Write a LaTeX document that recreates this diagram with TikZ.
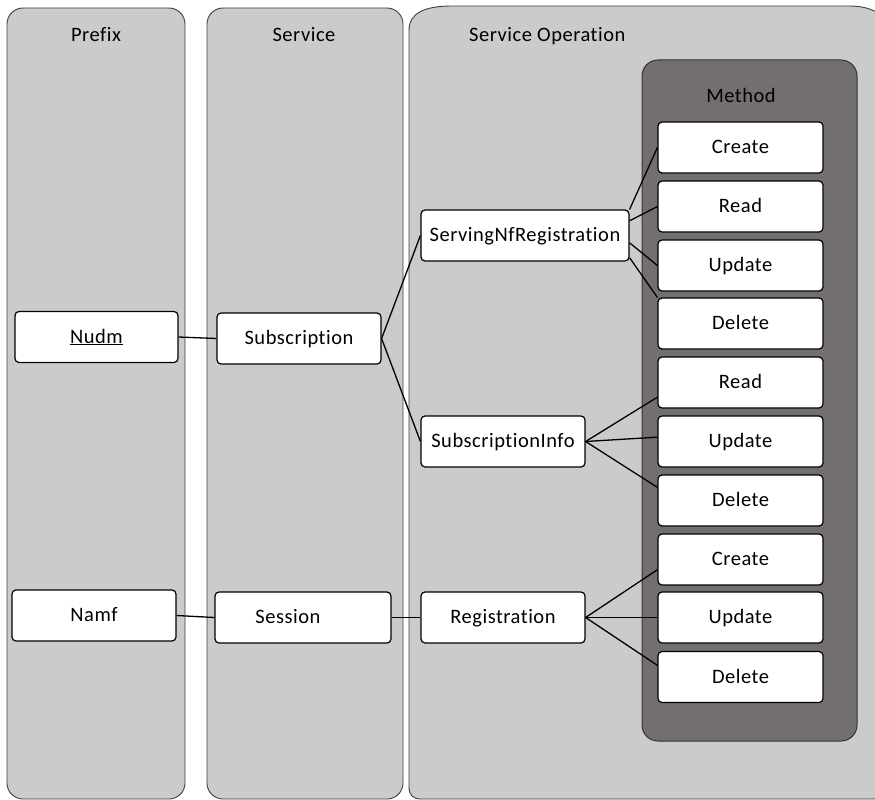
\documentclass[tikz,border=0pt]{standalone}
\usepackage{fontspec}
\setmainfont{Carlito}[Ligatures=NoCommon,LetterSpace=2.5]
\usetikzlibrary{calc}
\definecolor{colfill}{RGB}{203,203,203}
\definecolor{colline}{RGB}{64,64,64}
\definecolor{methfill}{RGB}{115,111,110}
\begin{document}
\begin{tikzpicture}[x=1pt,y=-1pt,
  column/.style={fill=colfill,draw=colline,line width=0.9pt,rounded corners=16pt},
  panel/.style={fill=methfill,draw=black!80,line width=1pt,rounded corners=16pt},
  title/.style={font=\fontsize{20.5}{24}\selectfont,inner sep=0pt,text height=13pt,text depth=4pt},
  box/.style={draw=black,fill=white,line width=1.2pt,rounded corners=4pt,
    minimum height=51pt,inner sep=0pt,font=\fontsize{20.5}{24}\selectfont,
    text height=14pt,text depth=2pt},
  mbox/.style={box,minimum width=165pt},
  link/.style={draw=black,line width=1.3pt}]
\useasboundingbox (0,0) rectangle (875,800);
\clip (0,0) rectangle (875,800);
\fill[white] (0,0) rectangle (875,800);
% columns
\draw[column] (7,8) rectangle (185,799);
\draw[column] (207,8) rectangle (403,799);
\draw[fill=colfill,draw=colline,line width=0.9pt]
  (409,787) -- (409,30) .. controls (409,13) and (425,6) .. (452,6)
  -- (848,6) .. controls (866,6) and (876,10) .. (888,20)
  -- (888,799) -- (421,799) .. controls (413,799) and (409,795) .. (409,787);
\node[title] (tprefix) at (96,37) {Prefix};
\node[title] (tservice) at (304,37) {Service};
\node[title,anchor=west] (top) at (469,37) {Service Operation};
% method panel
\draw[panel] (642,60) rectangle (857,741);
\node[title] (tmethod) at (741,98) {Method};
% boxes
\node[box,minimum width=163pt] (nudm) at (96.5,337) {\underline{Nudm}};
\node[box,minimum width=164pt] (namf) at (94,615.5) {Namf};
\node[box,minimum width=164pt] (subs) at (299,338.5) {Subscription};
\node[box,minimum width=176pt] (sess) at (303,617.5) {\hspace*{-30pt}Session};
\node[box,minimum width=208pt] (snr) at (525,235.5) {ServingNfRegistration};
\node[box,minimum width=164pt] (sinfo) at (503,441.5) {SubscriptionInfo};
\node[box,minimum width=164pt] (reg) at (503,617.5) {Registration};
% methods
\node[mbox] (create1) at (740.5,147.5) {Create};
\node[mbox] (read1) at (740.5,206.5) {Read};
\node[mbox] (update1) at (740.5,265.5) {Update};
\node[mbox] (delete1) at (740.5,323.5) {Delete};
\node[mbox] (read2) at (740.5,382.5) {Read};
\node[mbox] (update2) at (740.5,441.5) {Update};
\node[mbox] (delete2) at (740.5,500.5) {Delete};
\node[mbox] (create3) at (740.5,559.5) {Create};
\node[mbox] (update3) at (740.5,617.5) {Update};
\node[mbox] (delete3) at (740.5,677) {Delete};
% connectors
\draw[link] (nudm.east) -- (subs.west);
\draw[link] (namf.east) -- (sess.west);
\draw[link] (sess.east) -- (reg.west);
\draw[link] (subs.east) -- (snr.west);
\draw[link] (subs.east) -- (sinfo.west);
\draw[link] (snr.14.5) -- (create1.west);
\draw[link] (snr.8.5) -- (read1.west);
\draw[link] (snr.-4) -- (update1.west);
\draw[link] (snr.-12) -- (delete1.north west);
\draw[link] (sinfo.east) -- (read2.190);
\draw[link] (sinfo.east) -- (update2.177);
\draw[link] (sinfo.east) -- (delete2.171);
\draw[link] (reg.east) -- (create3.187);
\draw[link] (reg.east) -- (update3.west);
\draw[link] (reg.east) -- (delete3.172);
\end{tikzpicture}
\end{document}
